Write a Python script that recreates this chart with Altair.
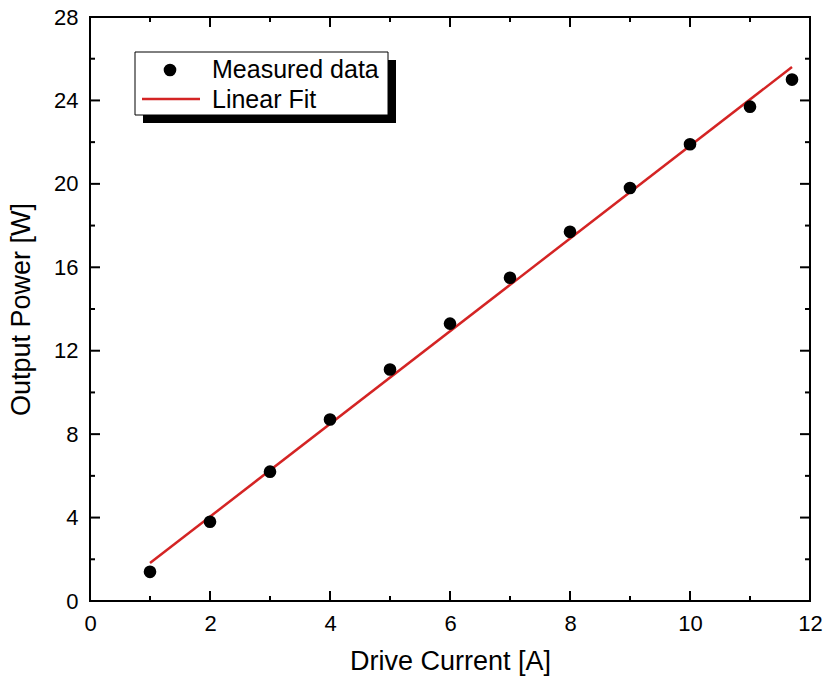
import altair as alt
import pandas as pd

# ---- data ----
current = [1, 2, 3, 4, 5, 6, 7, 8, 9, 10, 11, 11.7]
power = [1.4, 3.8, 6.2, 8.7, 11.1, 13.3, 15.5, 17.7, 19.8, 21.9, 23.7, 25.0]
fit_current = [1.0, 11.7]
fit_power = [1.82, 25.6]
x_major = [0, 2, 4, 6, 8, 10, 12]
x_minor = [1, 3, 5, 7, 9, 11]
y_major = [0, 4, 8, 12, 16, 20, 24, 28]
y_minor = [2, 6, 10, 14, 18, 22, 26]
legend_labels = ["Measured data", "Linear Fit"]
x_title = "Drive Current [A]"
y_title = "Output Power [W]"

W, H = 720, 584
FONT = "Liberation Sans"
RED = "#d42424"

xscale = alt.Scale(domain=[0, 12], nice=False, zero=False)
yscale = alt.Scale(domain=[0, 28], nice=False, zero=False)
xaxis = alt.Axis(values=x_major, ticks=False, domain=False, grid=False, title=x_title,
                 labelFontSize=22, labelPadding=12, titleFontSize=27, titlePadding=14,
                 labelFlush=False, labelOverlap=False,
                 titleFontWeight="normal", labelColor="black", titleColor="black",
                 labelFont=FONT, titleFont=FONT)
yaxis = alt.Axis(values=y_major, ticks=False, domain=False, grid=False, title=y_title,
                 labelFontSize=22, labelPadding=12, titleFontSize=27, titlePadding=18,
                 labelFlush=False, labelOverlap=False,
                 titleFontWeight="normal", labelColor="black", titleColor="black",
                 labelFont=FONT, titleFont=FONT)


def X(f):
    return alt.X(f, type="quantitative", scale=xscale, axis=xaxis)


def Y(f):
    return alt.Y(f, type="quantitative", scale=yscale, axis=yaxis)


meas = pd.DataFrame({"current": current, "power": power})
fit = pd.DataFrame({"current": fit_current, "power": fit_power})

points = alt.Chart(meas).mark_circle(size=160, color="black", opacity=1).encode(
    x=X("current"), y=Y("power"))
line = alt.Chart(fit).mark_line(color=RED, strokeWidth=2.5).encode(
    x=X("current"), y=Y("power"))

layers = [line, points]

# inward ticks on all four sides
for vals, ln in ((x_major, 10), (x_minor, 5)):
    d = pd.DataFrame({"current": vals})
    layers.append(alt.Chart(d).mark_rule(color="black", strokeWidth=2).encode(
        x=X("current"), y=alt.value(H), y2=alt.value(H - ln)))
    layers.append(alt.Chart(d).mark_rule(color="black", strokeWidth=2).encode(
        x=X("current"), y=alt.value(0), y2=alt.value(ln)))
for vals, ln in ((y_major, 10), (y_minor, 5)):
    d = pd.DataFrame({"power": vals})
    layers.append(alt.Chart(d).mark_rule(color="black", strokeWidth=2).encode(
        y=Y("power"), x=alt.value(0), x2=alt.value(ln)))
    layers.append(alt.Chart(d).mark_rule(color="black", strokeWidth=2).encode(
        y=Y("power"), x=alt.value(W), x2=alt.value(W - ln)))

# legend box with shadow
one = pd.DataFrame({"a": [0]})
layers.append(alt.Chart(one).mark_rect(color="black").encode(
    x=alt.value(53), x2=alt.value(306), y=alt.value(43), y2=alt.value(106)))
layers.append(alt.Chart(one).mark_rect(fill="white", stroke="black", strokeWidth=1).encode(
    x=alt.value(45), x2=alt.value(298), y=alt.value(35), y2=alt.value(98)))
layers.append(alt.Chart(one).mark_circle(size=160, color="black", opacity=1).encode(
    x=alt.value(80), y=alt.value(53)))
layers.append(alt.Chart(one).mark_rule(color=RED, strokeWidth=2.5).encode(
    x=alt.value(52), x2=alt.value(110), y=alt.value(82)))
layers.append(alt.Chart(one).mark_text(align="left", baseline="middle", fontSize=25,
                                        font=FONT, color="black").encode(
    x=alt.value(122), y=alt.value(53), text=alt.value(legend_labels[0])))
layers.append(alt.Chart(one).mark_text(align="left", baseline="middle", fontSize=25,
                                        font=FONT, color="black").encode(
    x=alt.value(122), y=alt.value(83), text=alt.value(legend_labels[1])))

chart = alt.layer(*layers).properties(
    width=W, height=H,
    autosize=alt.AutoSizeParams(type="none"),
    padding={"left": 90, "top": 17, "right": 17, "bottom": 84},
    background="white",
).configure_view(stroke="black", strokeWidth=2)

chart.save("out.html", embed_options={"renderer": "svg", "actions": False})
